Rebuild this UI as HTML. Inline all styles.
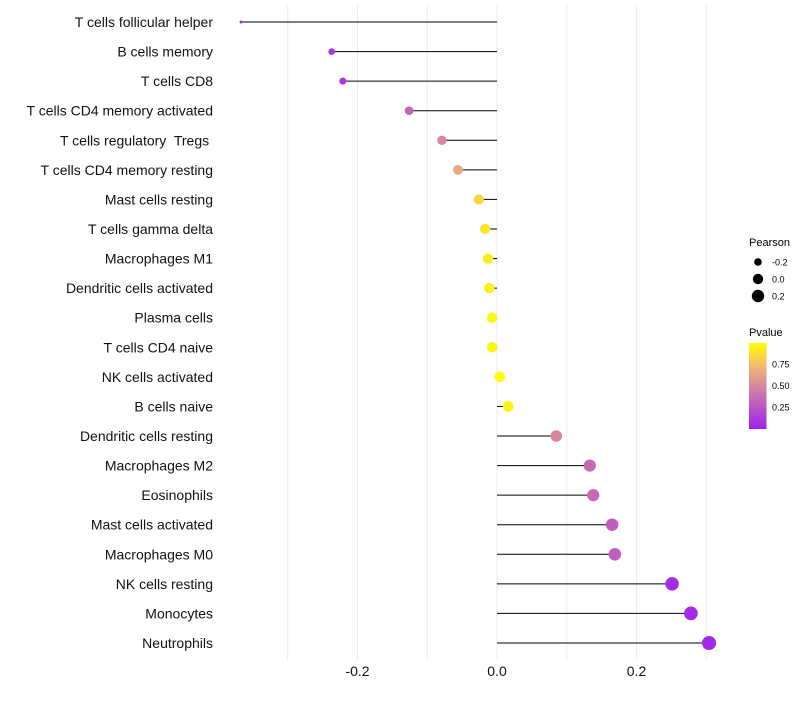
<!DOCTYPE html>
<html><head><meta charset="utf-8"><style>
body{margin:0;background:#fff;font-family:"Liberation Sans",sans-serif}
text{white-space:pre}
</style></head><body>
<svg id="c" width="800" height="700" xmlns="http://www.w3.org/2000/svg" font-family="Liberation Sans, sans-serif">
<defs><linearGradient id="pg" x1="0" y1="1" x2="0" y2="0">
<stop offset="0" stop-color="#a020f0"/><stop offset="0.5" stop-color="#d6879d"/><stop offset="0.75" stop-color="#f3bd6c"/><stop offset="1" stop-color="#ffff00"/>
</linearGradient></defs>
<g id="grid"></g><g id="marks"></g><g id="labels"></g>
<g>
<text x="749" y="246" font-size="11">Pearson</text>
<circle cx="758" cy="262" r="3.8" fill="#000"/><text x="772" y="265.5" font-size="9">-0.2</text>
<circle cx="758" cy="279" r="5.2" fill="#000"/><text x="772" y="282.5" font-size="9">0.0</text>
<circle cx="758" cy="296" r="6.2" fill="#000"/><text x="772" y="299.5" font-size="9">0.2</text>
</g>
<g>
<text x="749" y="336" font-size="11">Pvalue</text>
<rect x="749" y="343" width="17.5" height="86" fill="url(#pg)"/>
<text x="772" y="367.5" font-size="9">0.75</text>
<text x="772" y="389" font-size="9">0.50</text>
<text x="772" y="410.5" font-size="9">0.25</text>
</g>
</svg>
<script>
const categories=["T cells follicular helper","B cells memory","T cells CD8","T cells CD4 memory activated","T cells regulatory  Tregs ","T cells CD4 memory resting","Mast cells resting","T cells gamma delta","Macrophages M1","Dendritic cells activated","Plasma cells","T cells CD4 naive","NK cells activated","B cells naive","Dendritic cells resting","Macrophages M2","Eosinophils","Mast cells activated","Macrophages M0","NK cells resting","Monocytes","Neutrophils"];
const pearson=[-0.367,-0.237,-0.221,-0.126,-0.079,-0.056,-0.026,-0.017,-0.013,-0.011,-0.007,-0.007,0.004,0.016,0.085,0.133,0.138,0.165,0.169,0.251,0.278,0.304];
const pvalue=[0.05,0.1,0.1,0.33,0.5,0.65,0.85,0.9,0.93,0.94,0.97,0.97,0.99,0.96,0.5,0.35,0.35,0.3,0.3,0.05,0.05,0.03];
const ticks=[-0.2,0.0,0.2];
const tickLabels=["-0.2","0.0","0.2"];
const gridVals=[-0.3,-0.2,-0.1,0,0.1,0.2,0.3];
const NS="http://www.w3.org/2000/svg";
const x=v=>497+v*697.5;
const y=i=>22+i*(621/(categories.length-1));
const r=v=>Math.sqrt(Math.max(1,27.8+69.7*v));
const stops=[[0,[160,32,240]],[0.5,[214,135,157]],[0.75,[243,189,108]],[1,[255,255,0]]];
function col(p){for(let k=1;k<stops.length;k++){if(p<=stops[k][0]){const a=stops[k-1],b=stops[k],t=(p-a[0])/(b[0]-a[0]);return "rgb("+a[1].map((c,j)=>Math.round(c+(b[1][j]-c)*t)).join(",")+")";}}return "rgb(255,255,0)";}
function mk(t,at,parent){const e=document.createElementNS(NS,t);for(const k in at)e.setAttribute(k,at[k]);parent.appendChild(e);return e;}
const G=document.getElementById('grid'),M=document.getElementById('marks'),L=document.getElementById('labels');
gridVals.forEach(v=>{const l=mk('line',{x1:x(v),x2:x(v),y1:5,y2:660,stroke:'#ebebeb','stroke-width':1},G);

});
ticks.forEach((v,i)=>{const t=mk('text',{x:x(v),y:676,'font-size':14,'text-anchor':'middle',fill:'#111'},L);t.textContent=tickLabels[i];

});
categories.forEach((c,i)=>{
const t=mk('text',{x:213,y:y(i)+5,'font-size':14,'text-anchor':'end',fill:'#111'},L);t.textContent=c;


const s=mk('line',{x1:x(0),x2:x(pearson[i]),y1:y(i),y2:y(i),stroke:'#000','stroke-width':1},M);


const d=mk('circle',{cx:x(pearson[i]),cy:y(i),r:r(pearson[i]),fill:col(pvalue[i])},M);


});
</script>
</body></html>
